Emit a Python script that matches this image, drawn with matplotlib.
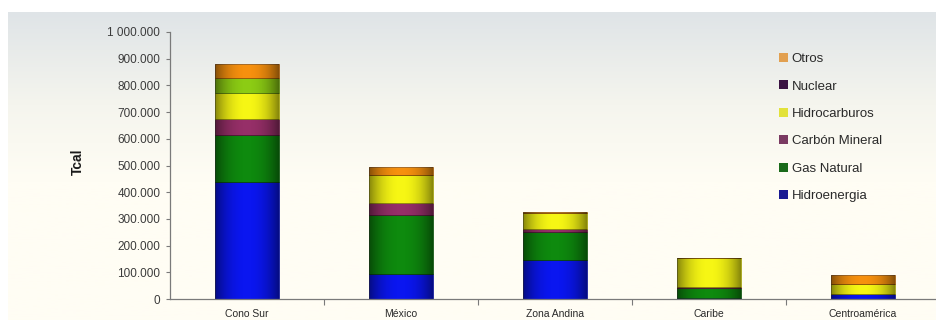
# -*- coding:utf-8 -*-
import numpy as np
import matplotlib.pyplot as plt
from matplotlib.patches import Patch
from matplotlib.colors import to_rgb

#--------------------------------
# データ (Tcal)
#--------------------------------
categories = ["Cono Sur", "México", "Zona Andina", "Caribe", "Centroamérica"]
hidroenergia  = [440000,  94000, 146000,   2000, 20000]
gas_natural   = [174000, 221000, 104000,  38000,     0]
carbon        = [ 60000,  43000,  11000,   6000,     0]
hidrocarburos = [ 98000, 107000,  60000, 109000, 38000]
nuclear       = [ 54000,      0,      0,      0,     0]
otros         = [ 54000,  28000,   4000,      0, 31000]

series_names = ["Hidroenergia", "Gas Natural", "Carbón Mineral",
                "Hidrocarburos", "Nuclear", "Otros"]
series_values = [hidroenergia, gas_natural, carbon, hidrocarburos, nuclear, otros]
bar_colors = ["#0a16f0", "#0e8a0e", "#962f68", "#f6f614", "#8ccc14", "#f6900e"]
edge_colors = ["#040a80", "#054005", "#4a1030", "#8a8a05", "#4a7008", "#8a4a05"]
legend_colors = ["#1a1a92", "#1a6a1a", "#7a3a62", "#e2e23a", "#3a1242", "#e2a050"]

y_ticks = [0, 100000, 200000, 300000, 400000, 500000,
           600000, 700000, 800000, 900000, 1000000]
y_labels = ["0", "100.000", "200.000", "300.000", "400.000", "500.000",
            "600.000", "700.000", "800.000", "900.000", "1 000.000"]

W, H = 936, 320
plt.rcParams['font.family'] = ['Liberation Sans', 'DejaVu Sans']

fig = plt.figure(figsize=(W / 100, H / 100), dpi=100)
fig.patch.set_facecolor("white")

# 背景グラデーション
bg = fig.add_axes([8 / W, 0, 1 - 8 / W, 1 - 12 / H], zorder=-1)
top_c = np.array(to_rgb("#dfe4e7"))
mid_c = np.array(to_rgb("#f5f5ee"))
bot_c = np.array(to_rgb("#fffdf4"))
t = np.linspace(0, 1, 300)
grad = np.zeros((300, 1, 3))
for i, v in enumerate(t):
    if v < 0.3:
        grad[i, 0] = top_c + (mid_c - top_c) * v / 0.3
    elif v < 0.55:
        grad[i, 0] = mid_c + (bot_c - mid_c) * (v - 0.3) / 0.25
    else:
        grad[i, 0] = bot_c
bg.imshow(grad, aspect="auto", extent=[0, 1, 0, 1])
bg.set_axis_off()

ax = fig.add_axes([170 / W, 21 / H, (W - 170) / W, (299 - 32) / H])
ax.set_facecolor("none")

x = np.arange(len(categories))
bottom = np.zeros(len(categories))
# 横方向の陰影 (中央明るく、端暗く)
u = np.linspace(-1, 1, 64)
shade = np.zeros((1, 64, 4))
shade[0, :, 3] = 0.45 * np.abs(u) ** 2.2
for name, vals, c, ec in zip(series_names, series_values, bar_colors, edge_colors):
    bars = ax.bar(x, vals, width=0.41, bottom=bottom, color=c,
                  edgecolor=ec, linewidth=0.5, label=name)
    for b in bars:
        if b.get_height() <= 0:
            continue
        im = ax.imshow(shade, aspect="auto", zorder=2.5,
                       extent=[b.get_x(), b.get_x() + b.get_width(),
                               b.get_y(), b.get_y() + b.get_height()])
        im.set_clip_path(b)
    bottom += np.array(vals)

ax.set_ylim(0, 1000000)
ax.set_xlim(-0.5, -0.5 + (W - 170) / 154)
ax.set_yticks(y_ticks)
ax.set_yticklabels(y_labels)
ax.set_xticks(x)
ax.set_xticklabels(categories)
ax.set_xticks(x[:-1] + 0.5, minor=True)

for s in ["top", "right"]:
    ax.spines[s].set_visible(False)
for s in ["left", "bottom"]:
    ax.spines[s].set_color("#7a7a7a")
    ax.spines[s].set_linewidth(0.9)

ax.tick_params(axis="y", direction="out", length=3, width=0.8, color="#7a7a7a",
               labelsize=8.5, labelcolor="#3c3c3c", pad=4)
ax.tick_params(axis="x", which="major", length=0, labelsize=7.5,
               labelcolor="#2a2a2a", pad=7)
ax.tick_params(axis="x", which="minor", direction="out", length=4, width=0.8,
               color="#7a7a7a")

fig.text(78 / W, 1 - 162 / H, "Tcal", rotation=90, ha="center", va="center",
         fontsize=10, fontweight="bold", color="#1a1a1a")

# 凡例 (上から Otros ... Hidroenergia)
handles = [Patch(facecolor=c, edgecolor="none")
           for c in reversed(legend_colors)]
labels = list(reversed(series_names))
ax.legend(handles, labels, loc="upper left",
          bbox_to_anchor=(779 / W, 1 - 53 / H), bbox_transform=fig.transFigure,
          frameon=False, fontsize=9.5, handlelength=0.65, handleheight=0.65,
          handletextpad=0.3, labelspacing=1.17, borderpad=0, borderaxespad=0,
          labelcolor="#2a2a2a")

plt.savefig("out.png", dpi=100)
